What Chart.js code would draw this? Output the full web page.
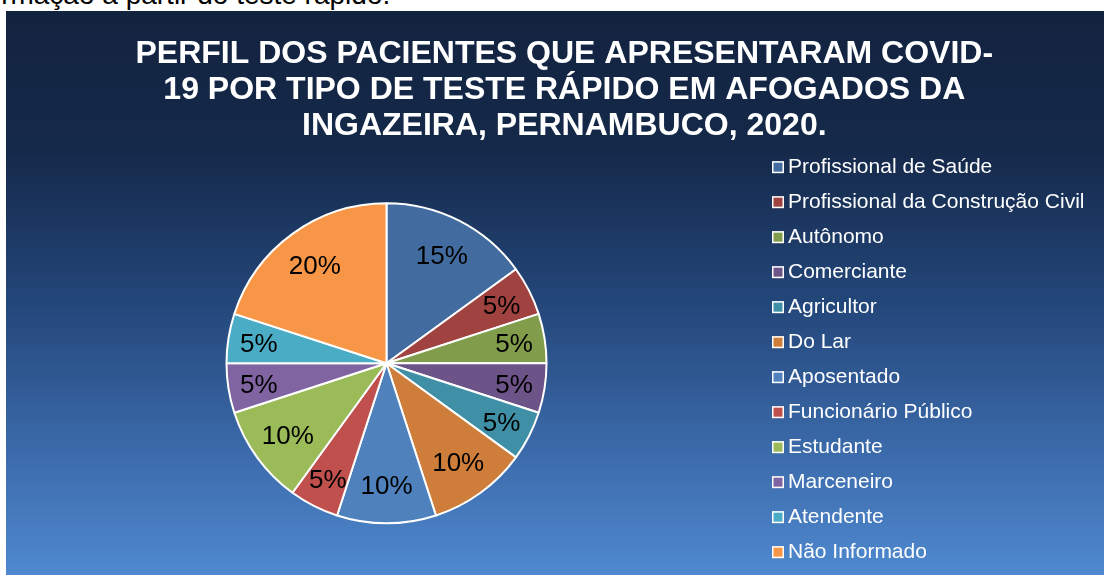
<!DOCTYPE html>
<html><head><meta charset="utf-8">
<script src="https://cdn.jsdelivr.net/npm/chart.js@4/dist/chart.umd.min.js"></script>
<style>
html,body{margin:0;padding:0;background:#fff;overflow:hidden;width:1105px;height:575px;}
#cap{position:absolute;left:-58px;top:-18.7px;font:28px 'Liberation Sans',Arial,sans-serif;line-height:28px;color:#000;white-space:nowrap;}
#wrap{position:absolute;left:6px;top:11px;width:1098px;height:575px;}
</style></head><body>
<div id="cap">confirmação a partir do teste rápido.</div>
<div id="wrap"><canvas id="c" width="1098" height="575"></canvas></div>
<script>
// ---- data ----
const categories = [
  'Profissional de Saúde',
  'Profissional da Construção Civil',
  'Autônomo',
  'Comerciante',
  'Agricultor',
  'Do Lar',
  'Aposentado',
  'Funcionário Público',
  'Estudante',
  'Marceneiro',
  'Atendente',
  'Não Informado'
];
const percentValues = [15, 5, 5, 5, 5, 10, 10, 5, 10, 5, 5, 20];
const sliceColors = [
  '#426C9F', '#A04340', '#819D4B', '#6C5488', '#3F90A6', '#CE7D3A',
  '#4F81BD', '#C0504D', '#9BBB59', '#8064A2', '#4BACC6', '#F79646'
];
const titleLines = [
  'PERFIL DOS PACIENTES QUE APRESENTARAM COVID-',
  '19 POR TIPO DE TESTE RÁPIDO EM AFOGADOS DA',
  'INGAZEIRA, PERNAMBUCO, 2020.'
];

// ---- layout constants ----
const FONT = '"Liberation Sans", Arial, sans-serif';
const W = 1098;
const legendFont = 21;
const legendPad = 10;
const legendItemH = 25;
const targetTextX = 782;   // legend text start
const pieCX = 380.5;       // pie centre x
const titleCX = 558.3;     // title centre x

const mctx = document.createElement('canvas').getContext('2d');
mctx.font = legendFont + 'px ' + FONT;
const maxTextW = Math.max(...categories.map(c => mctx.measureText(c).width));
const padR = W - targetTextX - maxTextW - 10;
const padL = 2 * titleCX - W + padR;
const legendLeft = 2 * pieCX - padL;
const boxW = targetTextX - legendPad - legendFont / 2 - legendLeft;

const bgPlugin = {
  id: 'bg',
  beforeDraw(chart) {
    const ctx = chart.ctx;
    const g = ctx.createLinearGradient(0, 0, 0, 564);
    g.addColorStop(0, '#12233F');
    g.addColorStop(0.246, '#15294A');
    g.addColorStop(0.512, '#234679');
    g.addColorStop(0.778, '#3B6AAA');
    g.addColorStop(1, '#4F89CF');
    ctx.save();
    ctx.fillStyle = g;
    ctx.fillRect(0, 0, chart.width, chart.height);
    ctx.restore();
  }
};

const labelPlugin = {
  id: 'pieLabels',
  afterDatasetsDraw(chart) {
    const ctx = chart.ctx;
    const meta = chart.getDatasetMeta(0);
    ctx.save();
    ctx.font = '26px ' + FONT;
    ctx.fillStyle = '#000';
    ctx.textAlign = 'center';
    ctx.textBaseline = 'middle';
    meta.data.forEach((arc, i) => {
      const p = arc.getProps(['x', 'y', 'startAngle', 'endAngle', 'outerRadius'], true);
      const mid = (p.startAngle + p.endAngle) / 2;
      const txt = percentValues[i] + '%';
      const w = ctx.measureText(txt).width;
      const r = p.outerRadius - w / 2 - 12;
      ctx.fillText(txt, p.x + Math.cos(mid) * r, p.y + Math.sin(mid) * r + 2);
    });
    ctx.restore();
  }
};

const legendBoxPlugin = {
  id: 'legendBoxes',
  afterDraw(chart) {
    const lg = chart.legend;
    if (!lg || !lg.legendHitBoxes) return;
    const ctx = chart.ctx;
    ctx.save();
    lg.legendHitBoxes.forEach((hb, i) => {
      const tx = hb.left + boxW + legendFont / 2;
      const cy = hb.top + legendItemH / 2;
      const x0 = tx - 16, y0 = cy - 6;
      ctx.fillStyle = sliceColors[i];
      ctx.fillRect(x0, y0, 12, 12);
      ctx.strokeStyle = '#ffffff';
      ctx.lineWidth = 1.5;
      ctx.strokeRect(x0 + 0.75, y0 + 0.75, 10.5, 10.5);
    });
    ctx.restore();
  }
};

Chart.defaults.font.family = FONT;

new Chart(document.getElementById('c'), {
  type: 'pie',
  data: {
    labels: categories,
    datasets: [{
      data: percentValues,
      backgroundColor: sliceColors,
      borderColor: '#ffffff',
      borderWidth: 2,
      radius: 160
    }]
  },
  options: {
    responsive: false,
    animation: false,
    events: [],
    layout: { padding: { left: padL, right: padR, top: 0, bottom: 4.1 } },
    plugins: {
      title: {
        display: true,
        text: titleLines,
        color: '#ffffff',
        font: { size: 32, weight: 'bold', lineHeight: 1.133 },
        padding: { top: 24.9, bottom: 0 }
      },
      legend: {
        display: true,
        position: 'right',
        align: 'start',
        fullSize: false,
        labels: {
          color: '#ffffff',
          font: { size: legendFont },
          boxWidth: boxW,
          boxHeight: legendItemH,
          padding: legendPad,
          generateLabels: () => categories.map((c, i) => ({
            text: c,
            fillStyle: 'rgba(0,0,0,0)',
            strokeStyle: 'rgba(0,0,0,0)',
            lineWidth: 0,
            hidden: false,
            index: i,
            fontColor: '#ffffff'
          }))
        }
      },
      tooltip: { enabled: false }
    }
  },
  plugins: [bgPlugin, labelPlugin, legendBoxPlugin]
});
</script>
</body></html>
